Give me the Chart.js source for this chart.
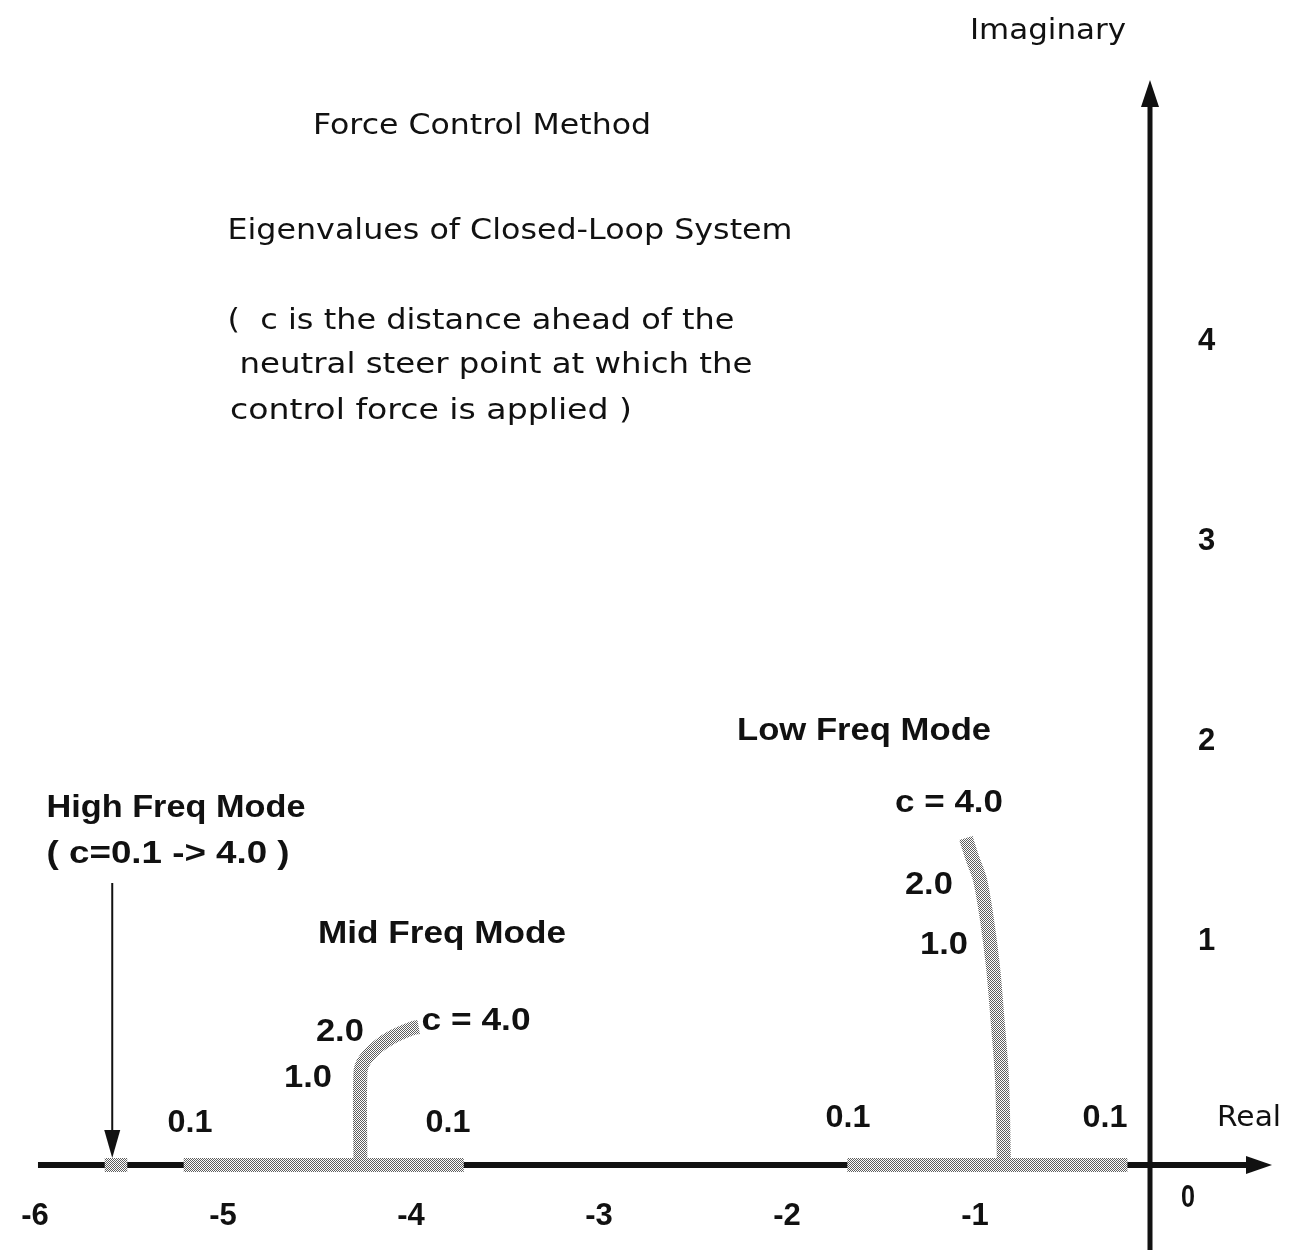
<!DOCTYPE html>
<html>
<head>
<meta charset="utf-8">
<title>Force Control Method – Closed-Loop Eigenvalues</title>
<script src="https://cdn.jsdelivr.net/npm/chart.js@4.4.1/dist/chart.umd.min.js"></script>
<style>
  html, body { margin: 0; padding: 0; background: #fff; overflow: hidden; }
  canvas { display: block; }
</style>
</head>
<body>
<canvas id="locus" width="1299" height="1250"></canvas>
<script>
// ---- Root-locus data: closed-loop eigenvalues as c runs 0.1 -> 4.0 ----
// Stretches of the real axis swept by each mode (real part, imaginary = 0)
const highFreqRe = [-5.56, -5.44];
const midFreqRe  = [-5.14, -3.65];
const lowFreqRe  = [-1.61, -0.12];

// Complex branches leaving the real axis (upper half plane)
const midBranchRe = [-4.20, -4.20, -4.18, -4.11, -4.03, -3.92, -3.89];
const midBranchIm = [0.00, 0.46, 0.52, 0.59, 0.64, 0.685, 0.69];
const lowBranchRe = [-0.777, -0.787, -0.814, -0.835, -0.867, -0.904, -0.947, -0.979];
const lowBranchIm = [0.00, 0.425, 0.76, 0.99, 1.225, 1.425, 1.54, 1.635];

// Axis tick labels
const xTicks = [-6, -5, -4, -3, -2, -1];
const yTicks = [1, 2, 3, 4];

// ---- styling ----
const INK = '#111';
const REG = '29px "DejaVu Sans", sans-serif';
const BOLD = 'bold 32px "Liberation Sans", Arial, sans-serif';

function stipple() {
  const t = document.createElement('canvas');
  t.width = 2; t.height = 2;
  const g = t.getContext('2d');
  g.fillStyle = '#fff';
  g.fillRect(0, 0, 2, 2);
  g.fillStyle = '#5e5e5e';
  g.fillRect(0, 0, 1, 1);
  g.fillRect(1, 1, 1, 1);
  return g.createPattern(t, 'repeat');
}
const shade = stipple();

function pts(xs, ys) { return xs.map((x, i) => ({ x, y: ys[i] })); }
const zeros = a => a.map(() => 0);

const locusStyle = {
  borderColor: shade, backgroundColor: shade, borderWidth: 14,
  pointRadius: 0, showLine: true, fill: false, clip: false,
  borderCapStyle: 'butt', borderJoinStyle: 'round'
};

// Text drawn squeezed/stretched to a given width, centred on (cx, cy)
function fitText(ctx, str, cx, cy, font, width) {
  ctx.save();
  ctx.font = font;
  ctx.fillStyle = INK;
  ctx.textAlign = 'center';
  ctx.textBaseline = 'middle';
  const w = ctx.measureText(str).width;
  ctx.translate(cx, cy);
  if (width) ctx.scale(width / w, 1);
  ctx.fillText(str, 0, 0);
  ctx.restore();
}

// Annotations placed in data coordinates (re, im)
const notes = [
  { t: 'Low Freq Mode',    re: -1.521, im: 2.17,  w: 254, f: BOLD },
  { t: 'c = 4.0',          re: -1.069, im: 1.81,  w: 108, f: BOLD },
  { t: '2.0',              re: -1.176, im: 1.40,  w: 48,  f: BOLD },
  { t: '1.0',              re: -1.096, im: 1.10,  w: 48,  f: BOLD },
  { t: '0.1',              re: -1.606, im: 0.235, w: 45,  f: BOLD },
  { t: '0.1',              re: -0.239, im: 0.235, w: 45,  f: BOLD },
  { t: 'High Freq Mode',   re: -5.181, im: 1.785, w: 259, f: BOLD },
  { t: '( c=0.1 -> 4.0 )', re: -5.223, im: 1.555, w: 243, f: BOLD },
  { t: '0.1',              re: -5.106, im: 0.21,  w: 45,  f: BOLD },
  { t: 'Mid Freq Mode',    re: -3.766, im: 1.155, w: 248, f: BOLD },
  { t: '2.0',              re: -4.309, im: 0.665, w: 48,  f: BOLD },
  { t: '1.0',              re: -4.479, im: 0.435, w: 48,  f: BOLD },
  { t: 'c = 4.0',          re: -3.585, im: 0.72,  w: 109, f: BOLD },
  { t: '0.1',              re: -3.734, im: 0.21,  w: 45,  f: BOLD },
  { t: '0',                re: 0.202,  im: -0.165, w: 14, f: BOLD },
  { t: 'Real',             re: 0.527,  im: 0.235, w: 64,  f: REG }
];

// Heading block (canvas pixels)
const heading = [
  { t: 'Force Control Method',               x: 482, y: 126, w: 338 },
  { t: 'Eigenvalues of Closed-Loop System',  x: 510, y: 231, w: 565 },
  { t: '(  c is the distance ahead of the',  x: 481, y: 321, w: 507 },
  { t: 'neutral steer point at which the',   x: 496, y: 365, w: 513 },
  { t: 'control force is applied )',         x: 431, y: 411, w: 402 },
  { t: 'Imaginary',                          x: 1048, y: 31, w: 156 }
];

function arrowHead(ctx, tipX, tipY, dir, len, half) {
  ctx.beginPath();
  if (dir === 'up') {
    ctx.moveTo(tipX, tipY); ctx.lineTo(tipX - half, tipY + len); ctx.lineTo(tipX + half, tipY + len);
  } else if (dir === 'down') {
    ctx.moveTo(tipX, tipY); ctx.lineTo(tipX - half, tipY - len); ctx.lineTo(tipX + half, tipY - len);
  } else {
    ctx.moveTo(tipX, tipY); ctx.lineTo(tipX - len, tipY - half); ctx.lineTo(tipX - len, tipY + half);
  }
  ctx.closePath();
  ctx.fill();
}

const axesPlugin = {
  id: 'complexPlaneAxes',
  beforeDatasetsDraw(chart) {
    const { ctx, scales: { x, y } } = chart;
    const x0 = x.getPixelForValue(0), y0 = y.getPixelForValue(0);
    ctx.save();
    ctx.fillStyle = INK;
    ctx.strokeStyle = INK;
    // real axis with arrow
    const realTip = x.getPixelForValue(0.649);
    ctx.lineWidth = 6;
    ctx.beginPath();
    ctx.moveTo(x.getPixelForValue(-5.915), y0);
    ctx.lineTo(realTip - 20, y0);
    ctx.stroke();
    arrowHead(ctx, realTip, y0, 'right', 26, 9);
    // imaginary axis with arrow
    const imTip = y.getPixelForValue(5.425);
    ctx.lineWidth = 5;
    ctx.beginPath();
    ctx.moveTo(x0, chart.height);
    ctx.lineTo(x0, imTip + 20);
    ctx.stroke();
    arrowHead(ctx, x0, imTip, 'up', 27, 9);
    ctx.restore();
  },
  afterDraw(chart) {
    const { ctx, scales: { x, y } } = chart;
    ctx.save();
    // pointer to the high-frequency mode
    const ax = x.getPixelForValue(-5.52);
    const aTop = y.getPixelForValue(1.41), aTip = y.getPixelForValue(0.035);
    ctx.strokeStyle = INK; ctx.fillStyle = INK; ctx.lineWidth = 2;
    ctx.beginPath();
    ctx.moveTo(ax, aTop);
    ctx.lineTo(ax, aTip - 20);
    ctx.stroke();
    arrowHead(ctx, ax, aTip, 'down', 28, 8);
    ctx.restore();

    notes.forEach(n => fitText(ctx, n.t, x.getPixelForValue(n.re), y.getPixelForValue(n.im), n.f, n.w));
    heading.forEach(h => fitText(ctx, h.t, h.x, h.y, REG, h.w));
  }
};

new Chart(document.getElementById('locus'), {
  type: 'scatter',
  data: {
    datasets: [
      { label: 'High freq mode', data: pts(highFreqRe, zeros(highFreqRe)), ...locusStyle },
      { label: 'Mid freq mode (real)', data: pts(midFreqRe, zeros(midFreqRe)), ...locusStyle },
      { label: 'Low freq mode (real)', data: pts(lowFreqRe, zeros(lowFreqRe)), ...locusStyle },
      { label: 'Mid freq mode (complex)', data: pts(midBranchRe, midBranchIm), tension: 0.35, ...locusStyle },
      { label: 'Low freq mode (complex)', data: pts(lowBranchRe, lowBranchIm), tension: 0.3, ...locusStyle }
    ]
  },
  options: {
    responsive: false,
    animation: false,
    events: [],
    layout: { padding: { left: 22, top: 85, right: 0, bottom: 0 } },
    plugins: { legend: { display: false }, tooltip: { enabled: false }, title: { display: false } },
    scales: {
      x: {
        type: 'linear', position: 'bottom', min: -6, max: 0,
        grid: { display: false, drawTicks: false },
        border: { display: false },
        afterBuildTicks: s => { s.ticks = xTicks.map(v => ({ value: v })); },
        afterFit: s => { s.height = 85; s.paddingLeft = 0; s.paddingRight = 0; },
        ticks: {
          autoSkip: false, maxRotation: 0, padding: 33, labelOffset: 13,
          color: INK, font: { family: 'Liberation Sans', size: 31, weight: 'bold' },
          callback: v => String(v)
        }
      },
      y: {
        type: 'linear', position: 'right', min: 0, max: 5.4,
        grid: { display: false, drawTicks: false },
        border: { display: false },
        afterBuildTicks: s => { s.ticks = yTicks.map(v => ({ value: v })); },
        afterFit: s => { s.width = 149; s.paddingTop = 0; s.paddingBottom = 0; },
        ticks: {
          autoSkip: false, padding: 48, labelOffset: -24,
          color: INK, font: { family: 'Liberation Sans', size: 31, weight: 'bold' },
          callback: v => String(v)
        }
      }
    }
  },
  plugins: [axesPlugin]
});
</script>
</body>
</html>
